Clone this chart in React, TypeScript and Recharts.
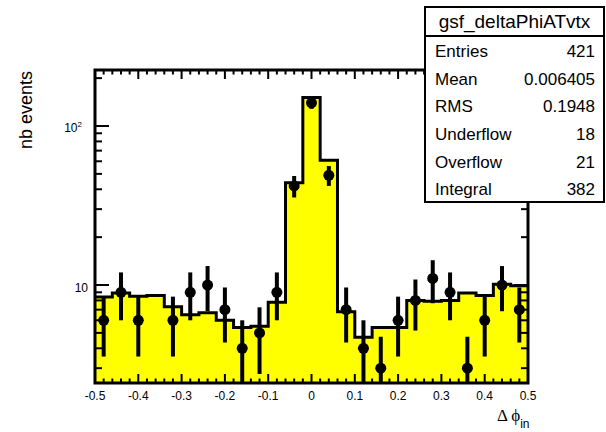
import { Area, ComposedChart, ErrorBar, ReferenceArea, Scatter, XAxis, YAxis } from 'recharts'

// histogram binning: 25 bins on [-0.5, 0.5]
const binEdges = [
  -0.5, -0.46, -0.42, -0.38, -0.34, -0.3, -0.26, -0.22, -0.18, -0.14, -0.1, -0.06, -0.02,
  0.02, 0.06, 0.1, 0.14, 0.18, 0.22, 0.26, 0.3, 0.34, 0.38, 0.42, 0.46, 0.5,
]
const binCenters = [
  -0.48, -0.44, -0.4, -0.36, -0.32, -0.28, -0.24, -0.2, -0.16, -0.12, -0.08, -0.04, 0,
  0.04, 0.08, 0.12, 0.16, 0.2, 0.24, 0.28, 0.32, 0.36, 0.4, 0.44, 0.48,
]

// reference histogram (yellow, normalised)
const refCounts = [
  8.4, 8.9, 8.5, 8.6, 7.3, 6.5, 6.7, 6.0, 5.4, 5.5, 7.8, 44, 151, 61, 6.8, 4.7, 5.4, 5.4, 8.0,
  7.9, 8.0, 8.9, 8.6, 10.1, 9.9,
]

// data points and their errors
const dataCounts = [6, 9, 6, 0, 6, 9, 10, 7, 4, 5, 9, 42, 140, 49, 7, 4, 3, 6, 8, 11, 9, 3, 6, 10, 7]
const dataErrors = [
  2.45, 3, 2.45, 0, 2.45, 3, 3.16, 2.65, 2, 2.24, 3, 6.48, 11.8, 7, 2.65, 2, 1.73, 2.45, 2.83,
  3.32, 3, 1.73, 2.45, 3.16, 2.65,
]

const xTickLabels = ['-0.5', '-0.4', '-0.3', '-0.2', '-0.1', '0', '0.1', '0.2', '0.3', '0.4', '0.5']
const yTicks = [3, 4, 5, 6, 7, 8, 9, 10, 20, 30, 40, 50, 60, 70, 80, 90, 100, 200]

const statsRows = [
  ['Entries', '421'],
  ['Mean', '0.006405'],
  ['RMS', '0.1948'],
  ['Underflow', '18'],
  ['Overflow', '21'],
  ['Integral', '382'],
]

const X_DOMAIN: [number, number] = [-0.5, 0.5]
const Y_DOMAIN: [number, number] = [2.42, 225]
const FONT = '"Liberation Sans", Arial, Helvetica, sans-serif'

const stepRows = binEdges.map((x, i) => ({ x, ref: refCounts[Math.min(i, refCounts.length - 1)] }))
// lower error arm stops at the bottom of the frame (log axis)
const points = binCenters
  .map((x, i) => ({
    x,
    n: dataCounts[i],
    e: [Math.min(dataErrors[i], dataCounts[i] - Y_DOMAIN[0]), dataErrors[i]],
  }))
  .filter((p) => p.n > 0)

// minor ticks every 0.02
const xTicks = Array.from({ length: 51 }, (_, i) => Math.round((-0.5 + i * 0.02) * 100) / 100)

const isMajorX = (v: number) => Math.abs(v * 10 - Math.round(v * 10)) < 1e-6
const isMajorY = (v: number) => v === 10 || v === 100

function BottomTick({ x, y, payload }: any) {
  const v = payload.value
  const major = isMajorX(v)
  return (
    <g>
      <line x1={x} x2={x} y1={y} y2={y - (major ? 9 : 4.5)} stroke="#000" strokeWidth={2} />
      {major && (
        <text x={x} y={y + 17} textAnchor="middle" fontSize={12} fontFamily={FONT} fill="#000">
          {xTickLabels[Math.round(v * 10) + 5]}
        </text>
      )}
    </g>
  )
}

function TopTick({ x, y, payload }: any) {
  const major = isMajorX(payload.value)
  return <line x1={x} x2={x} y1={y} y2={y + (major ? 9 : 4.5)} stroke="#000" strokeWidth={2} />
}

function LeftTick({ x, y, payload }: any) {
  const v = payload.value
  const major = isMajorY(v)
  return (
    <g>
      <line x1={x} x2={x + (major ? 14 : 7)} y1={y} y2={y} stroke="#000" strokeWidth={2} />
      {v === 10 && (
        <text x={x - 7} y={y + 6.5} textAnchor="end" fontSize={12} fontFamily={FONT} fill="#000">
          10
        </text>
      )}
      {v === 100 && (
        <text x={x - 13} y={y + 6} textAnchor="end" fontSize={12} fontFamily={FONT} fill="#000">
          10
          <tspan dy={-5} fontSize={8}>
            2
          </tspan>
        </text>
      )}
    </g>
  )
}

function RightTick({ x, y, payload }: any) {
  const major = isMajorY(payload.value)
  return <line x1={x} x2={x - (major ? 14 : 7)} y1={y} y2={y} stroke="#000" strokeWidth={2} />
}

function Marker({ cx, cy }: any) {
  return <circle cx={cx} cy={cy} r={5.5} fill="#000" />
}

export default function App() {
  return (
    <div style={{ position: 'absolute', left: 0, top: 0, width: 606, height: 432, background: '#fff' }}>
      <ComposedChart
        width={606}
        height={432}
        data={stepRows}
        margin={{ top: 69, right: 77, bottom: 0, left: 0 }}
      >
        <XAxis
          xAxisId="b"
          dataKey="x"
          type="number"
          domain={X_DOMAIN}
          allowDataOverflow
          ticks={xTicks}
          interval={0}
          tickSize={0}
          tickMargin={0}
          height={49}
          axisLine={false}
          tick={<BottomTick />}
        />
        <YAxis
          yAxisId="l"
          type="number"
          scale="log"
          domain={Y_DOMAIN}
          allowDataOverflow
          ticks={yTicks}
          interval={0}
          tickSize={0}
          tickMargin={0}
          width={95}
          axisLine={false}
          tick={<LeftTick />}
        />
        <XAxis
          xAxisId="t"
          dataKey="x"
          orientation="top"
          type="number"
          domain={X_DOMAIN}
          allowDataOverflow
          ticks={xTicks}
          interval={0}
          tickSize={0}
          tickMargin={0}
          height={1}
          axisLine={false}
          tick={<TopTick />}
        />
        <YAxis
          yAxisId="r"
          orientation="right"
          type="number"
          scale="log"
          domain={Y_DOMAIN}
          allowDataOverflow
          ticks={yTicks}
          interval={0}
          tickSize={0}
          tickMargin={0}
          width={1}
          axisLine={false}
          tick={<RightTick />}
        />
        <Area
          xAxisId="b"
          yAxisId="l"
          type="stepAfter"
          dataKey="ref"
          baseValue={Y_DOMAIN[0]}
          stroke="#000"
          strokeWidth={3}
          fill="#ffff00"
          fillOpacity={1}
          dot={false}
          activeDot={false}
          isAnimationActive={false}
        />
        <Scatter
          xAxisId="b"
          yAxisId="l"
          data={points}
          dataKey="n"
          fill="#000"
          shape={<Marker />}
          isAnimationActive={false}
        >
          <ErrorBar dataKey="e" direction="y" width={0} stroke="#000" strokeWidth={4} />
        </Scatter>
        {/* pad frame */}
        <ReferenceArea
          xAxisId="b"
          yAxisId="l"
          x1={X_DOMAIN[0]}
          x2={X_DOMAIN[1]}
          y1={Y_DOMAIN[0]}
          y2={Y_DOMAIN[1]}
          fill="none"
          stroke="#000"
          strokeWidth={3}
          ifOverflow="visible"
        />
      </ComposedChart>

      {/* axis titles */}
      <svg width={606} height={432} style={{ position: 'absolute', left: 0, top: 0, pointerEvents: 'none' }}>
        <text transform="translate(32,110) rotate(-90)" textAnchor="middle" fontSize={18} fontFamily={FONT} fill="#000">
          nb events
        </text>
        <text x={497} y={421} fontSize={17} fontFamily='"Liberation Serif", "DejaVu Serif", serif' fill="#000">
          Δ ϕ
          <tspan dy={7} fontSize={12} fontFamily={FONT}>
            in
          </tspan>
        </text>
      </svg>

      {/* statistics box */}
      <div
        style={{
          position: 'absolute',
          left: 424,
          top: 6,
          width: 181,
          height: 197,
          boxSizing: 'border-box',
          border: '2px solid #000',
          background: '#fff',
          fontFamily: FONT,
          color: '#000',
        }}
      >
        <div
          style={{
            height: 27,
            lineHeight: '27px',
            borderBottom: '2px solid #000',
            textAlign: 'center',
            fontSize: 19,
          }}
        >
          gsf_deltaPhiATvtx
        </div>
        <div style={{ paddingTop: 1 }}>
          {statsRows.map(([label, value]) => (
            <div
              key={label}
              style={{
                display: 'flex',
                justifyContent: 'space-between',
                height: 27.7,
                lineHeight: '27.7px',
                fontSize: 17,
                padding: '0 8px 0 9px',
              }}
            >
              <span>{label}</span>
              <span>{value}</span>
            </div>
          ))}
        </div>
      </div>
    </div>
  )
}
